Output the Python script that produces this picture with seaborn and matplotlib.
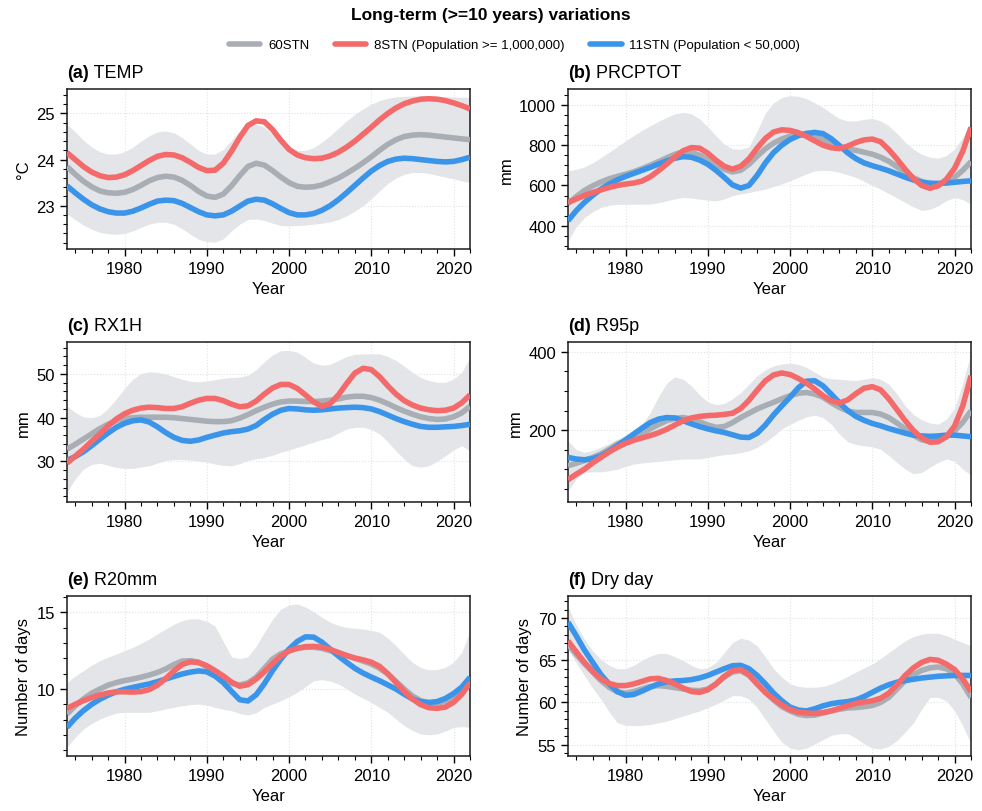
import numpy as np
import pandas as pd
import matplotlib
matplotlib.use("Agg")
import matplotlib.pyplot as plt
from matplotlib.lines import Line2D
from matplotlib.ticker import MultipleLocator
import seaborn as sns

years = list(range(1973, 2023))

# (a) TEMP
temp_all = [23.85, 23.68, 23.53, 23.41, 23.32, 23.28, 23.27, 23.29, 23.35, 23.44, 23.54, 23.61, 23.64, 23.62, 23.55, 23.44, 23.31, 23.21, 23.18, 23.25,
            23.43, 23.65, 23.85, 23.92, 23.88, 23.76, 23.62, 23.5, 23.42, 23.4, 23.41, 23.45, 23.52, 23.6, 23.7, 23.81, 23.93, 24.06, 24.2, 24.33,
            24.43, 24.5, 24.53, 24.54, 24.53, 24.51, 24.49, 24.47, 24.45, 24.43]
temp_big = [24.15, 24.0, 23.85, 23.73, 23.65, 23.61, 23.62, 23.67, 23.76, 23.87, 23.98, 24.07, 24.11, 24.1, 24.04, 23.94, 23.83, 23.76, 23.77, 23.92,
            24.18, 24.48, 24.74, 24.84, 24.82, 24.65, 24.42, 24.22, 24.1, 24.04, 24.02, 24.03, 24.08, 24.16, 24.27, 24.4, 24.55, 24.7, 24.86, 25.0,
            25.12, 25.21, 25.27, 25.31, 25.32, 25.31, 25.28, 25.23, 25.17, 25.1]
temp_small = [23.43, 23.28, 23.14, 23.02, 22.93, 22.87, 22.84, 22.84, 22.88, 22.95, 23.03, 23.1, 23.12, 23.11, 23.05, 22.96, 22.87, 22.8, 22.78, 22.8,
              22.88, 22.99, 23.1, 23.14, 23.12, 23.04, 22.94, 22.85, 22.8, 22.8, 22.83, 22.9, 23.0, 23.13, 23.28, 23.44, 23.6, 23.75, 23.87, 23.96,
              24.01, 24.03, 24.02, 24.0, 23.98, 23.96, 23.95, 23.96, 24.0, 24.05]
temp_hi = [24.77, 24.6, 24.42, 24.27, 24.17, 24.12, 24.12, 24.17, 24.27, 24.4, 24.52, 24.6, 24.62, 24.58, 24.48, 24.34, 24.2, 24.12, 24.12, 24.22,
           24.42, 24.62, 24.75, 24.77, 24.7, 24.55, 24.4, 24.28, 24.2, 24.2, 24.26, 24.38, 24.52, 24.68, 24.84, 24.98, 25.1, 25.2, 25.28, 25.33,
           25.36, 25.37, 25.38, 25.38, 25.38, 25.37, 25.36, 25.36, 25.35, 25.35]
temp_lo = [22.82, 22.7, 22.58, 22.49, 22.42, 22.39, 22.38, 22.4, 22.45, 22.53, 22.6, 22.64, 22.64, 22.6, 22.5, 22.38, 22.27, 22.22, 22.21, 22.28,
           22.45, 22.6, 22.7, 22.71, 22.68, 22.62, 22.57, 22.56, 22.57, 22.58, 22.6, 22.62, 22.65, 22.7, 22.78, 22.88, 23.0, 23.15, 23.32, 23.48,
           23.6, 23.68, 23.72, 23.72, 23.7, 23.66, 23.62, 23.58, 23.54, 23.5]

# (b) PRCPTOT
prcp_all = [510, 545, 575, 598, 617, 633, 645, 656, 668, 683, 700, 718, 737, 755, 766, 764, 750, 730, 705, 680,
            667, 675, 705, 745, 782, 810, 830, 845, 853, 854, 845, 828, 808, 792, 782, 774, 765, 755, 740, 720,
            693, 664, 638, 620, 610, 607, 617, 640, 675, 718]
prcp_big = [516, 533, 550, 565, 578, 590, 600, 607, 612, 622, 643, 673, 706, 742, 772, 788, 785, 760, 725, 695,
            681, 695, 732, 785, 833, 865, 876, 873, 862, 843, 821, 800, 787, 783, 795, 813, 826, 830, 817, 778,
            731, 680, 634, 600, 586, 598, 630, 685, 770, 888]
prcp_small = [425, 475, 516, 551, 582, 607, 628, 645, 660, 675, 690, 706, 722, 735, 743, 740, 726, 705, 675, 640,
              603, 587, 600, 650, 712, 763, 800, 828, 847, 858, 863, 857, 832, 798, 762, 733, 712, 698, 686, 673,
              657, 641, 627, 616, 611, 610, 612, 616, 620, 623]
prcp_hi = [673, 680, 692, 712, 738, 765, 793, 821, 848, 873, 896, 918, 938, 955, 963, 955, 930, 890, 846, 805,
           782, 780, 792, 870, 960, 1010, 1036, 1045, 1042, 1030, 1010, 987, 958, 932, 920, 920, 928, 932, 920, 896,
           858, 815, 780, 755, 740, 735, 748, 780, 840, 912]
prcp_lo = [326, 395, 441, 470, 491, 502, 506, 507, 507, 507, 508, 515, 524, 534, 540, 538, 532, 527, 524, 533,
           549, 558, 565, 574, 582, 595, 608, 623, 640, 658, 672, 675, 673, 665, 653, 640, 621, 600, 582, 560,
           538, 516, 494, 476, 482, 499, 525, 540, 530, 507]

# (c) RX1H
rx1h_all = [32.8, 33.9, 35.1, 36.3, 37.5, 38.5, 39.3, 39.8, 40.0, 40.1, 40.1, 40.1, 40.1, 40.0, 39.8, 39.6, 39.4, 39.2, 39.1, 39.1,
            39.3, 39.9, 40.7, 41.6, 42.4, 43.1, 43.6, 43.8, 43.8, 43.7, 43.7, 43.8, 44.0, 44.3, 44.7, 44.9, 44.9, 44.6, 44.0, 43.2,
            42.3, 41.5, 40.8, 40.2, 39.8, 39.6, 39.7, 40.2, 41.1, 42.6]
rx1h_big = [29.6, 31.2, 32.8, 34.6, 36.3, 38.1, 39.7, 40.9, 41.7, 42.2, 42.4, 42.3, 42.1, 42.1, 42.5, 43.3, 44.0, 44.4, 44.4, 43.9,
            43.1, 42.5, 42.7, 43.8, 45.4, 46.8, 47.6, 47.6, 46.7, 45.2, 43.6, 42.6, 43.2, 45.2, 47.8, 50.2, 51.3, 51.0, 49.4, 47.3,
            45.4, 43.9, 42.9, 42.2, 41.8, 41.6, 41.7, 42.2, 43.4, 45.2]
rx1h_small = [30.2, 31.1, 32.2, 33.6, 35.1, 36.5, 37.8, 38.7, 39.3, 39.5, 39.0, 37.9, 36.6, 35.5, 34.8, 34.6, 34.9, 35.5, 36.0, 36.5,
              36.8, 37.0, 37.4, 38.2, 39.6, 40.8, 41.7, 42.1, 42.0, 41.8, 41.7, 41.8, 42.0, 42.2, 42.3, 42.4, 42.3, 42.0, 41.4, 40.6,
              39.8, 39.1, 38.5, 38.0, 37.8, 37.8, 37.9, 38.0, 38.2, 38.5]
rx1h_hi = [42.7, 41.2, 40.2, 40.0, 40.5, 42.1, 44.3, 46.7, 48.8, 50.1, 50.5, 50.4, 50.0, 49.4, 48.8, 48.3, 48.2, 48.4, 48.7, 49.0,
           49.2, 49.3, 49.7, 51.0, 52.8, 54.4, 55.3, 55.4, 55.0, 53.8, 52.5, 52.0, 52.2, 53.1, 54.0, 54.5, 54.6, 54.6, 54.6, 54.0,
           53.1, 51.8, 50.4, 49.2, 48.5, 48.1, 48.1, 48.8, 50.4, 53.8]
rx1h_lo = [22.9, 26.0, 28.2, 29.3, 29.6, 29.1, 28.6, 28.4, 28.4, 28.7, 29.0, 29.6, 30.2, 30.4, 30.4, 30.3, 30.1, 29.8, 29.4, 29.1,
           29.0, 29.5, 30.2, 30.6, 30.9, 31.4, 32.1, 32.6, 33.2, 33.8, 34.4, 35.0, 35.5, 36.5, 37.4, 37.8, 37.8, 37.3, 36.3, 34.5,
           32.4, 30.5, 29.0, 28.7, 29.0, 30.0, 31.3, 32.6, 33.6, 32.4]

# (d) R95p
r95_all = [109, 115, 122, 130, 139, 151, 164, 173, 181, 192, 203, 214, 224, 230, 232, 228, 221, 213, 207, 209,
           219, 232, 243, 254, 263, 271, 280, 288, 294, 296, 292, 284, 270, 258, 249, 245, 245, 245, 241, 232,
           218, 203, 187, 175, 171, 173, 182, 198, 220, 249]
r95_big = [73, 87, 100, 116, 130, 144, 156, 166, 174, 180, 186, 193, 202, 213, 224, 231, 235, 237, 238, 240,
           243, 255, 276, 302, 326, 341, 346, 342, 332, 320, 305, 288, 275, 269, 277, 293, 307, 311, 303, 280,
           252, 224, 199, 180, 169, 170, 183, 210, 262, 339]
r95_small = [130, 126, 124, 127, 134, 146, 160, 175, 190, 205, 219, 228, 232, 231, 224, 216, 209, 203, 198, 194,
             188, 182, 181, 192, 213, 239, 262, 284, 308, 325, 326, 313, 292, 270, 250, 235, 225, 217, 211, 204,
             198, 192, 187, 185, 184, 185, 187, 187, 185, 183]
r95_hi = [173, 150, 143, 148, 156, 166, 177, 187, 198, 215, 245, 285, 320, 336, 330, 313, 290, 272, 265, 268,
          280, 296, 317, 339, 354, 364, 369, 371, 368, 360, 348, 336, 331, 330, 328, 327, 330, 334, 330, 317,
          292, 262, 240, 226, 218, 215, 228, 255, 320, 398]
r95_lo = [45, 75, 92, 93, 93, 96, 100, 107, 113, 116, 118, 120, 122, 124, 126, 126, 126, 130, 134, 137,
          139, 142, 147, 156, 169, 185, 203, 215, 225, 234, 238, 232, 215, 190, 170, 163, 160, 157, 151, 135,
          117, 100, 88, 92, 105, 117, 126, 120, 100, 85]

# (e) R20mm
r20_all = [8.37, 8.9, 9.35, 9.72, 10.0, 10.25, 10.42, 10.55, 10.65, 10.77, 10.91, 11.08, 11.3, 11.6, 11.82, 11.85, 11.74, 11.45, 11.08, 10.7,
           10.36, 10.26, 10.4, 10.76, 11.35, 11.95, 12.3, 12.5, 12.64, 12.72, 12.72, 12.65, 12.5, 12.35, 12.18, 12.0, 11.82, 11.63, 11.35, 10.98,
           10.5, 10.0, 9.55, 9.24, 9.1, 9.08, 9.2, 9.46, 9.95, 10.61]
r20_big = [8.74, 9.0, 9.24, 9.44, 9.61, 9.74, 9.82, 9.82, 9.8, 9.83, 9.96, 10.25, 10.68, 11.18, 11.6, 11.77, 11.73, 11.52, 11.2, 10.85,
           10.45, 10.18, 10.28, 10.65, 11.12, 11.65, 12.15, 12.48, 12.66, 12.76, 12.78, 12.72, 12.58, 12.38, 12.18, 12.02, 11.9, 11.75, 11.48, 11.0,
           10.43, 9.85, 9.35, 8.98, 8.78, 8.74, 8.82, 9.13, 9.65, 10.39]
r20_small = [7.5, 8.1, 8.59, 9.0, 9.33, 9.6, 9.82, 9.98, 10.1, 10.22, 10.33, 10.48, 10.65, 10.82, 10.98, 11.1, 11.18, 11.12, 10.85, 10.42,
             9.85, 9.3, 9.22, 9.62, 10.35, 11.2, 11.95, 12.6, 13.1, 13.4, 13.38, 13.05, 12.6, 12.15, 11.74, 11.35, 11.04, 10.78, 10.54, 10.27,
             10.0, 9.66, 9.35, 9.18, 9.12, 9.18, 9.38, 9.7, 10.12, 10.76]
r20_hi = [10.43, 10.85, 11.2, 11.55, 11.85, 12.08, 12.28, 12.5, 12.72, 12.98, 13.26, 13.6, 13.91, 14.22, 14.46, 14.58, 14.57, 14.42, 14.1, 13.1,
          12.1, 11.98, 12.1, 12.8, 13.7, 14.55, 15.2, 15.48, 15.54, 15.35, 15.04, 14.68, 14.35, 14.15, 14.02, 13.96, 13.91, 13.82, 13.7, 13.32,
          12.83, 12.26, 11.74, 11.4, 11.26, 11.27, 11.41, 11.75, 12.39, 13.8]
r20_lo = [6.2, 6.85, 7.39, 7.75, 8.04, 8.26, 8.43, 8.48, 8.48, 8.48, 8.48, 8.58, 8.7, 8.81, 8.91, 8.98, 9.02, 8.95, 8.8, 8.68,
          8.59, 8.4, 8.3, 8.45, 8.8, 9.02, 9.24, 9.5, 9.78, 10.15, 10.54, 10.61, 10.52, 10.33, 10.02, 9.67, 9.4, 9.13, 8.8, 8.48,
          8.04, 7.61, 7.3, 7.07, 7.02, 7.07, 7.25, 7.5, 7.55, 7.5]

# (f) Dry day
dry_all = [66.9, 65.7, 64.6, 63.6, 62.6, 61.8, 61.25, 61.1, 61.3, 61.6, 61.9, 62.0, 61.9, 61.75, 61.6, 61.45, 61.4, 61.6, 62.2, 63.0,
           63.6, 63.75, 63.2, 62.2, 61.2, 60.3, 59.5, 59.0, 58.6, 58.45, 58.5, 58.75, 59.0, 59.2, 59.35, 59.4, 59.5, 59.65, 60.0, 60.6,
           61.6, 62.6, 63.3, 63.8, 64.1, 64.2, 64.0, 63.4, 62.2, 60.6]
dry_big = [67.3, 66.0, 64.75, 63.7, 62.8, 62.25, 62.0, 62.0, 62.2, 62.5, 62.8, 62.85, 62.6, 62.2, 61.7, 61.3, 61.2, 61.5, 62.2, 63.1,
           63.75, 63.9, 63.3, 62.2, 61.2, 60.4, 59.7, 59.15, 58.85, 58.75, 58.7, 58.8, 59.0, 59.3, 59.6, 59.9, 60.05, 60.2, 60.5, 61.1,
           62.1, 63.2, 64.1, 64.75, 65.1, 65.0, 64.55, 63.9, 62.8, 61.3]
dry_small = [69.5, 67.9, 66.2, 64.75, 63.3, 62.2, 61.3, 60.85, 60.95, 61.35, 61.8, 62.2, 62.45, 62.55, 62.6, 62.7, 62.9, 63.2, 63.6, 64.0,
             64.35, 64.4, 64.0, 63.2, 62.2, 61.1, 60.2, 59.45, 59.1, 59.0, 59.25, 59.6, 59.85, 60.0, 60.1, 60.3, 60.7, 61.2, 61.7, 62.1,
             62.4, 62.6, 62.75, 62.9, 63.0, 63.1, 63.15, 63.2, 63.2, 63.2]
dry_hi = [71.3, 69.2, 67.5, 66.1, 65.1, 64.4, 64.0, 64.0, 64.4, 65.0, 65.5, 65.8, 65.8, 65.4, 64.95, 64.4, 64.0, 64.1, 64.75, 65.9,
          67.1, 67.6, 67.4, 66.7, 65.4, 64.0, 63.0, 62.2, 61.9, 61.8, 61.8, 61.9, 62.2, 62.6, 63.1, 63.6, 64.1, 64.55, 65.2, 65.9,
          66.6, 67.3, 67.8, 68.1, 68.2, 68.2, 67.9, 67.5, 67.1, 66.7]
dry_lo = [66.3, 64.7, 63.2, 61.7, 60.4, 58.9, 57.6, 57.3, 57.25, 57.3, 57.4, 57.6, 57.8, 58.1, 58.4, 58.7, 59.0, 59.4, 59.8, 60.3,
          60.8, 60.8, 60.4, 59.4, 58.0, 56.6, 55.3, 54.6, 54.4, 54.6, 55.1, 55.6, 56.1, 56.3, 56.3, 55.8, 55.1, 54.6, 54.5, 54.8,
          55.5, 56.5, 57.6, 59.2, 60.6, 60.6, 60.2, 59.0, 57.25, 55.1]

panel_tags = ["(a)", "(b)", "(c)", "(d)", "(e)", "(f)"]
panel_names = ["TEMP", "PRCPTOT", "RX1H", "R95p", "R20mm", "Dry day"]
units = ["°C", "mm", "mm", "mm", "Number of days", "Number of days"]
series_names = ["60STN", "8STN (Population >= 1,000,000)", "11STN (Population < 50,000)"]

panels = [
    (temp_all, temp_big, temp_small, temp_lo, temp_hi),
    (prcp_all, prcp_big, prcp_small, prcp_lo, prcp_hi),
    (rx1h_all, rx1h_big, rx1h_small, rx1h_lo, rx1h_hi),
    (r95_all, r95_big, r95_small, r95_lo, r95_hi),
    (r20_all, r20_big, r20_small, r20_lo, r20_hi),
    (dry_all, dry_big, dry_small, dry_lo, dry_hi),
]

ylims = [(22.06, 25.53), (285, 1078), (20.7, 57.3), (16, 425), (5.63, 16.06), (53.66, 72.6)]
ymajor = [1, 200, 10, 200, 5, 5]
yminor = [0.2, 50, 2, 50, 1, 1]

c_all, c_big, c_small = "#a9aeb4", "#f46a6a", "#3a95ea"
c_band = "#e3e5e9"

sns.set_style("ticks")
plt.rcParams["font.family"] = ["Liberation Sans", "DejaVu Sans"]
plt.rcParams["text.color"] = "black"
plt.rcParams["axes.labelcolor"] = "black"
plt.rcParams["xtick.color"] = "black"
plt.rcParams["ytick.color"] = "black"

fig = plt.figure(figsize=(9.82, 8.12), dpi=100)
lefts = [0.0682, 0.5784]
bottoms = [0.6921, 0.3805, 0.0677]
w, h = 0.4104, 0.197

for i, (s_all, s_big, s_small, lo, hi) in enumerate(panels):
    ax = fig.add_axes([lefts[i % 2], bottoms[i // 2], w, h])
    df = pd.DataFrame({"Year": years, "all": s_all, "big": s_big,
                       "small": s_small, "lo": lo, "hi": hi})
    ax.fill_between(df["Year"], df["lo"], df["hi"], color=c_band, lw=0, zorder=1)
    for col, c in [("all", c_all), ("small", c_small), ("big", c_big)]:
        sns.lineplot(data=df, x="Year", y=col, color=c, lw=4, ax=ax,
                     solid_capstyle="butt", zorder=3)
    ax.set_xlim(1973, 2022)
    ax.set_ylim(*ylims[i])
    ax.xaxis.set_major_locator(MultipleLocator(10))
    ax.xaxis.set_minor_locator(MultipleLocator(2))
    ax.yaxis.set_major_locator(MultipleLocator(ymajor[i]))
    ax.yaxis.set_minor_locator(MultipleLocator(yminor[i]))
    ax.grid(True, which="major", color="#e2e2e2", ls=":", lw=0.8, zorder=0)
    ax.tick_params(which="major", direction="out", length=5, width=1, labelsize=12)
    ax.tick_params(which="minor", direction="out", length=3, width=0.8)
    for sp in ax.spines.values():
        sp.set_linewidth(1.1)
        sp.set_color("#1a1a1a")
    ax.set_xlabel("Year", fontsize=12)
    ax.set_ylabel(units[i], fontsize=12)
    t = ax.text(0, 1.05, panel_tags[i], transform=ax.transAxes, fontsize=13,
                fontweight="bold", ha="left", va="bottom")
    ax.annotate(" " + panel_names[i], xy=(1, 0), xycoords=t, fontsize=13,
                ha="left", va="bottom")

fig.suptitle("Long-term (>=10 years) variations", y=0.99, fontsize=12.5,
             fontweight="bold")
handles = [Line2D([], [], color=c, lw=4) for c in (c_all, c_big, c_small)]
fig.legend(handles, series_names, loc="center", bbox_to_anchor=(0.524, 0.943),
           ncol=3, frameon=False, fontsize=9.5, handlelength=2.4,
           columnspacing=1.9, handletextpad=0.6)

fig.savefig("out.png", dpi=100)
